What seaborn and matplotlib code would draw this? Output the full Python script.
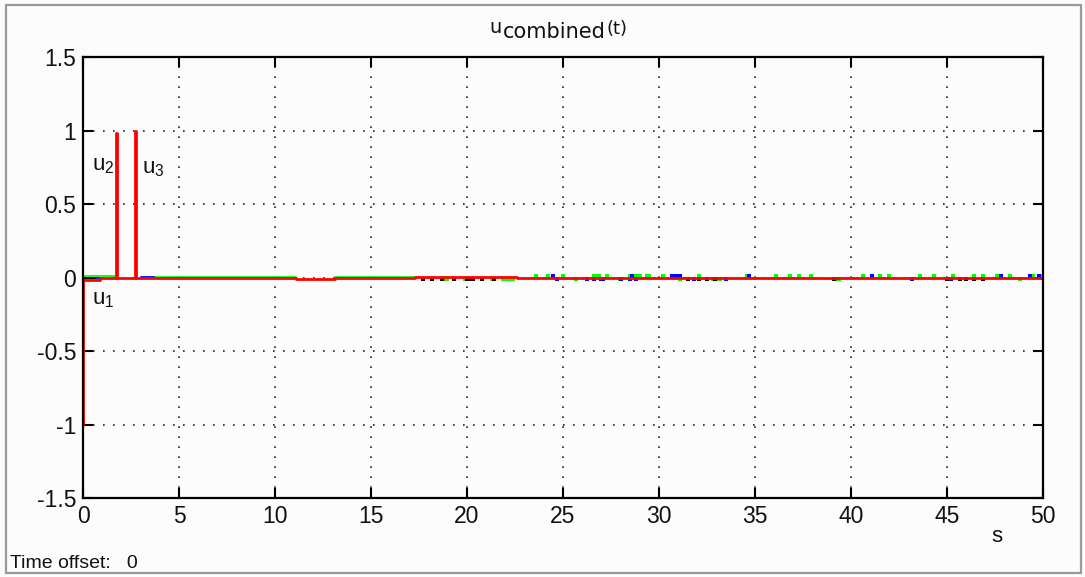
import numpy as np
import pandas as pd
import matplotlib
matplotlib.use("Agg")
import matplotlib.pyplot as plt
from matplotlib.patches import Rectangle
import seaborn as sns

sns.set_theme(style="white")
plt.rcParams["font.family"] = ["Liberation Sans", "DejaVu Sans"]
plt.rcParams["axes.unicode_minus"] = False
plt.rcParams["mathtext.default"] = "regular"

# ---- scope traces (time in s, value held until the next sample) ----
red_t = [0.00, 0.02, 0.90, 1.72, 1.74, 1.76, 2.70, 2.78, 11.10, 13.10, 17.30, 22.60, 50.00]
red_v = [-1.00, -0.014, -0.003, 0.50, 0.98, -0.003, 1.00, -0.003, -0.010, -0.003, 0.002, -0.001, -0.001]

green_seg = [0, 0, 0, 1, 1, 2, 2]
green_t = [0.00, 0.01, 1.72, 3.70, 11.10, 13.10, 17.30]
green_v = [1.00, 0.008, 0.008, 0.005, 0.005, 0.005, 0.005]

blue_seg = [0, 0, 1, 1]
blue_t = [0.60, 0.90, 3.00, 3.70]
blue_v = [-0.004, -0.004, 0.005, 0.005]

black_seg = [0, 0]
black_t = [0.00, 0.60]
black_v = [-0.004, -0.004]

# short excursions of the traces that show around the red one
green_dot_t = [18.77, 18.94, 19.9, 20.0, 20.1, 20.2, 20.3, 20.77, 21.28, 21.9, 22.0, 22.1,
               22.2, 22.3, 22.4, 23.6, 24.2, 25.0, 25.7, 26.6, 26.75, 26.9, 27.3, 27.97,
               28.5, 28.65, 28.8, 29.0, 29.4, 29.5, 30.2, 31.1, 32.1, 32.8, 33.0, 33.2,
               33.5, 34.6, 36.1, 36.8, 37.3, 37.9, 39.1, 39.25, 39.4, 40.6, 41.5, 42.0,
               43.2, 43.6, 44.3, 45.3, 46.4, 46.9, 47.6, 48.3, 48.8, 49.5, 49.9]
green_dot_v = [-0.007, -0.007, -0.007, -0.007, -0.007, -0.007, -0.007, -0.007, -0.007, -0.007, -0.007, -0.007,
               -0.007, -0.007, -0.007, 0.008, 0.008, 0.008, -0.007, 0.008, 0.008, 0.008, 0.008, -0.007,
               0.008, 0.008, 0.008, 0.008, 0.008, 0.008, 0.008, -0.007, 0.008, -0.007, -0.007, -0.007,
               -0.007, 0.008, 0.008, 0.008, 0.008, 0.008, -0.007, -0.007, -0.007, 0.008, 0.008, 0.008,
               -0.007, 0.008, 0.008, 0.008, 0.008, 0.008, 0.008, 0.008, -0.007, 0.008, 0.008]

blue_dot_t = [24.5, 24.7, 26.25, 26.6, 27.0, 27.1, 28.0, 28.5, 28.6, 28.8, 30.7, 30.9, 31.1,
              31.8, 33.5, 34.7, 41.1, 43.2, 45.2, 47.8, 49.3, 49.8]
blue_dot_v = [0.008, -0.007, -0.007, -0.007, -0.007, -0.007, -0.007, -0.007, 0.008, -0.007, 0.008, 0.008, 0.008,
              -0.007, -0.007, 0.008, 0.008, -0.007, -0.007, 0.008, 0.008, 0.008]

black_dot_t = [17.7, 18.2, 18.7, 19.3, 20.0, 20.15, 20.3, 20.8, 21.4, 31.5, 32.1, 32.5,
               32.9, 39.1, 45.0, 45.7, 46.0, 46.4, 46.9]
black_dot_v = [-0.008, -0.008, -0.008, -0.008, -0.008, -0.008, -0.008, -0.008, -0.008, -0.008, -0.008, -0.008,
               -0.008, -0.008, -0.008, -0.008, -0.008, -0.008, -0.008]

x_ticks = [0, 5, 10, 15, 20, 25, 30, 35, 40, 45, 50]
y_ticks = [-1.5, -1, -0.5, 0, 0.5, 1, 1.5]
y_tick_labels = ["-1.5", "-1", "-0.5", "0", "0.5", "1", "1.5"]

RED = "#ff0000"
GREEN = "#00ff00"
BLUE = "#0000ff"
BLACK = "#000000"
INK = "#111111"

fig = plt.figure(figsize=(10.85, 5.77), dpi=100, facecolor="#fcfcfc")
ax = fig.add_axes([0.0765, 0.1369, 0.8848, 0.7643])
ax.set_facecolor("#fcfcfc")

green_df = pd.DataFrame({"t": green_t, "v": green_v, "seg": green_seg})
blue_df = pd.DataFrame({"t": blue_t, "v": blue_v, "seg": blue_seg})
black_df = pd.DataFrame({"t": black_t, "v": black_v, "seg": black_seg})
red_df = pd.DataFrame({"t": red_t, "v": red_v})

common = dict(estimator=None, sort=False, drawstyle="steps-post", legend=False, ax=ax)
sns.lineplot(data=green_df, x="t", y="v", units="seg", color=GREEN, lw=1.3, **common)
sns.lineplot(data=blue_df, x="t", y="v", units="seg", color=BLUE, lw=1.3, **common)
sns.lineplot(data=black_df, x="t", y="v", units="seg", color=BLACK, lw=1.3, **common)
sns.lineplot(data=red_df, x="t", y="v", color=RED, lw=2.0, **common)

dot_kw = dict(marker="s", s=5, linewidth=0, legend=False, ax=ax)
sns.scatterplot(x=green_dot_t, y=green_dot_v, color=GREEN, **dot_kw)
sns.scatterplot(x=blue_dot_t, y=blue_dot_v, color=BLUE, **dot_kw)
sns.scatterplot(x=black_dot_t, y=black_dot_v, color=BLACK, **dot_kw)

ax.set_xlim(0, 50)
ax.set_ylim(-1.5, 1.5)
ax.set_xticks(x_ticks)
ax.set_xticklabels([str(v) for v in x_ticks], fontsize=16.5)
ax.set_yticks(y_ticks)
ax.set_yticklabels(y_tick_labels, fontsize=16.5)
ax.set_xlabel("")
ax.set_ylabel("")

ax.grid(True, color="#222222", linestyle=(0, (1, 5)), linewidth=1.2)
ax.tick_params(axis="both", which="both", direction="in", length=7, width=1.5,
               colors="black", top=True, right=True, bottom=True,
               left=True, labelcolor=INK)
ax.tick_params(axis="x", pad=5)
ax.tick_params(axis="y", pad=5)
for sp in ax.spines.values():
    sp.set_visible(True)
    sp.set_color("black")
    sp.set_linewidth(1.6)

# title: u, lowered "combined", raised "(t)"
fig.text(489 / 1085, 1 - 33 / 577, "u", fontsize=14, family="DejaVu Sans", ha="left", va="baseline", color=INK)
fig.text(503 / 1085, 1 - 38 / 577, "combined", fontsize=15, family="DejaVu Sans", ha="left", va="baseline", color=INK)
fig.text(606 / 1085, 1 - 34 / 577, "(t)", fontsize=13, family="DejaVu Sans", ha="left", va="baseline", color=INK)

# trace labels
lab_kw = dict(fontsize=16, va="center", ha="left", color=INK)
ax.text(0.45, 0.76, r"u$_{\mathregular{2}}$", **lab_kw)
ax.text(3.05, 0.74, r"u$_{\mathregular{3}}$", **lab_kw)
ax.text(0.45, -0.15, r"u$_{\mathregular{1}}$", **lab_kw)

fig.text(997 / 1085, 1 - 537 / 577, "s", fontsize=16, ha="center", va="center", color=INK)
fig.text(10 / 1085, 1 - 563 / 577, "Time offset:   0", fontsize=14, ha="left", va="center", color=INK)

# window frame
fig.patches.append(Rectangle((6, 4), 1075, 568, transform=None, fill=False,
                             edgecolor="#9a9a9a", linewidth=1.6))

fig.savefig("out.png", dpi=100, facecolor=fig.get_facecolor())
